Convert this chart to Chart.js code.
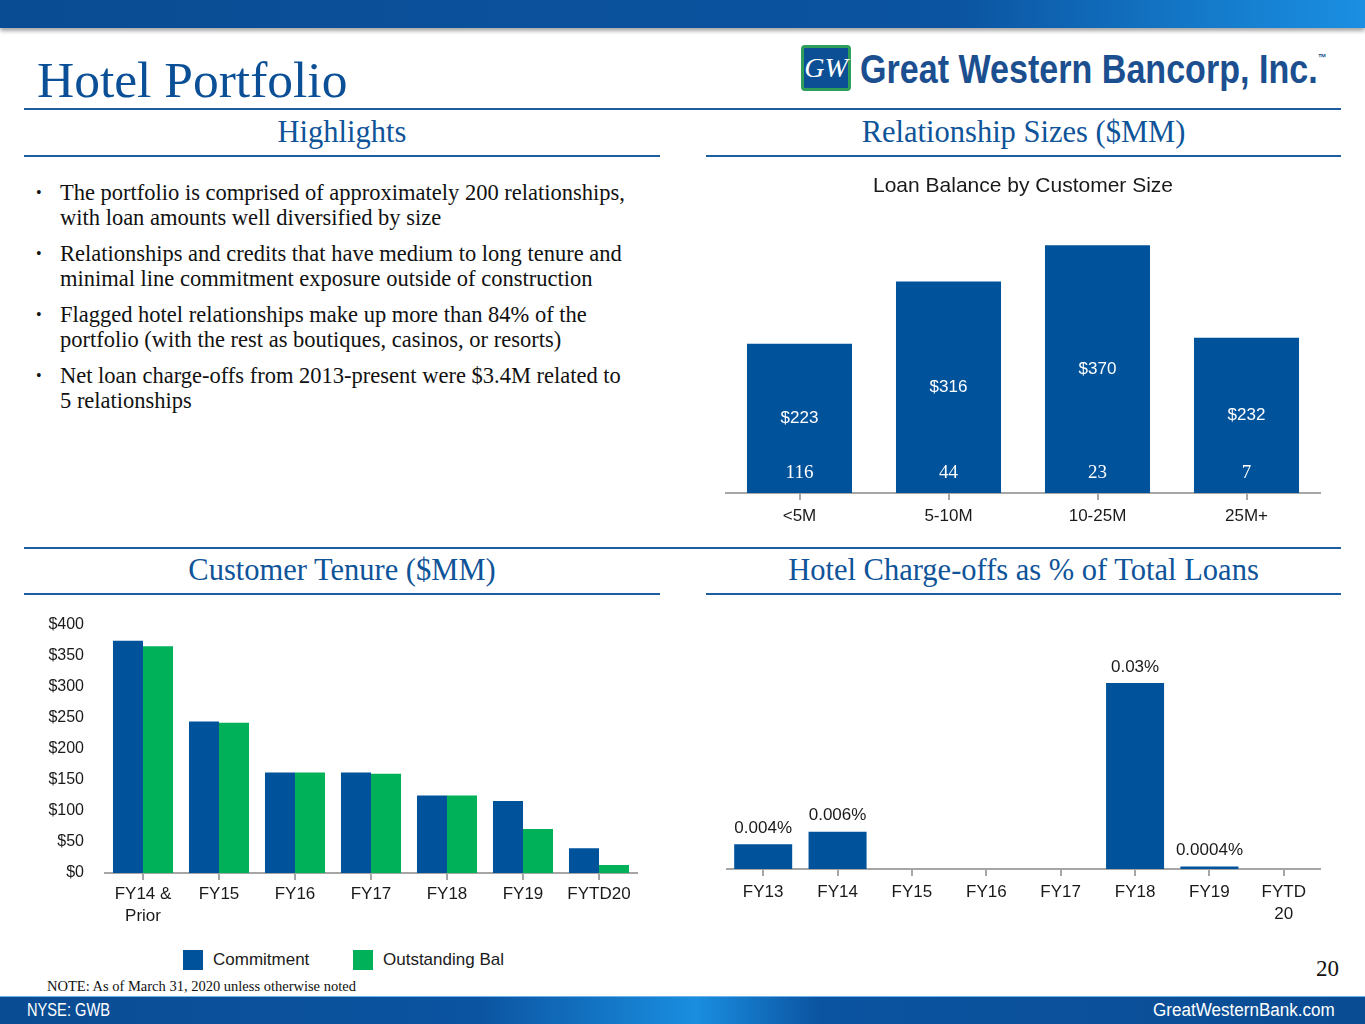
<!DOCTYPE html>
<html>
<head>
<meta charset="utf-8">
<title>Hotel Portfolio</title>
<script src="https://cdn.jsdelivr.net/npm/chart.js@4.4.1/dist/chart.umd.min.js"></script>
<style>
  html, body { margin: 0; padding: 0; background: #fff; }
  body { width: 1365px; height: 1024px; position: relative; overflow: hidden; font-family: "Liberation Serif", serif; }
  .abs { position: absolute; }
  #topbar { left: 0; top: 0; width: 1365px; height: 28px;
    background: linear-gradient(90deg, #0a4c93 0%, #0b54a1 70%, #1479c9 88%, #1b8fe2 100%);
    box-shadow: 0 3px 4px rgba(0,0,0,0.35); }
  #bottombar { left: 0; top: 996px; width: 1365px; height: 28px;
    background: linear-gradient(90deg, #0a4c93 0%, #0b54a1 35%, #1a8ee0 51%, #0b54a1 60%, #0a4c93 100%);
    border-top: 1px solid #6fb2ea; }
  .rule { height: 2px; background: #1e5d9e; }
  .head { color: #0f5499; font-size: 30.5px; text-align: center; line-height: 30px; white-space: nowrap; }
  h1 { margin: 0; position: absolute; left: 37px; top: 52px; font-weight: normal; font-size: 51.5px; color: #0b4f96; line-height: 56px; }
  ul { position: absolute; left: 36px; top: 180px; width: 640px; margin: 0; padding: 0; list-style: none; font-size: 22.5px; line-height: 25px; color: #111; white-space: nowrap; }
  li { position: relative; padding-left: 24px; margin-bottom: 11px; }
  li::before { content: "\2022"; position: absolute; left: 0; top: 0; font-size: 16px; }
  .chartbox { position: absolute; }
  #logo-icon { left: 801px; top: 45px; width: 44px; height: 40px; background: #0c4f94; border: 3px solid #2f9e5b; border-radius: 4px;
    color: #fff; font: italic 28px "Liberation Serif", serif; text-align: center; line-height: 40px; }
  .fit { white-space: nowrap; transform-origin: 0 0; }
  #logo-text { left: 860px; top: 47px; font: bold 40px "Liberation Sans", Arial, sans-serif; color: #1b4f8f; }
  .legend { top: 950px; font: 17px "Liberation Sans", Arial, sans-serif; color: #1a1a1a; line-height: 20px; }
  .legend span.sw { display: inline-block; width: 20px; height: 20px; vertical-align: top; margin-right: 10px; }
  .foot { top: 1000px; font: 18px "Liberation Sans", Arial, sans-serif; color: #fff; }
</style>
</head>
<body>
<div id="topbar" class="abs"></div>

<h1>Hotel Portfolio</h1>
<div id="logo-icon" class="abs">GW</div>
<div id="logo-text" class="abs fit" data-w="466">Great Western Bancorp, Inc.<sup style="font-size:10px;vertical-align:22px;">™</sup></div>

<div class="abs rule" style="left:24px; top:108px; width:1317px;"></div>
<div class="abs head" style="left:24px; top:117px; width:636px;">Highlights</div>
<div class="abs head" style="left:706px; top:117px; width:635px;">Relationship Sizes ($MM)</div>
<div class="abs rule" style="left:24px; top:155px; width:636px;"></div>
<div class="abs rule" style="left:706px; top:155px; width:635px;"></div>

<ul>
  <li>The portfolio is comprised of approximately 200 relationships,<br>with loan amounts well diversified by size</li>
  <li>Relationships and credits that have medium to long tenure and<br>minimal line commitment exposure outside of construction</li>
  <li>Flagged hotel relationships make up more than 84% of the<br>portfolio (with the rest as boutiques, casinos, or resorts)</li>
  <li>Net loan charge-offs from 2013-present were $3.4M related to<br>5 relationships</li>
</ul>

<div class="abs rule" style="left:24px; top:547px; width:1317px;"></div>
<div class="abs head" style="left:24px; top:555px; width:636px;">Customer Tenure ($MM)</div>
<div class="abs head" style="left:706px; top:555px; width:635px;">Hotel Charge-offs as % of Total Loans</div>
<div class="abs rule" style="left:24px; top:593px; width:636px;"></div>
<div class="abs rule" style="left:706px; top:593px; width:635px;"></div>

<div class="chartbox" style="left:725px; top:172px; width:596px; height:378px;"><canvas id="sizeChart"></canvas></div>
<div class="chartbox" style="left:40px; top:602px; width:600px; height:331px;"><canvas id="tenureChart"></canvas></div>
<div class="chartbox" style="left:726px; top:611px; width:595px; height:318px;"><canvas id="chargeChart"></canvas></div>

<div class="abs legend" style="left:183px;"><span class="sw" style="background:#00529b"></span>Commitment</div>
<div class="abs legend" style="left:353px;"><span class="sw" style="background:#00b15a"></span>Outstanding Bal</div>

<div class="abs" style="left:1316px; top:956px; font-size:23px; color:#111;">20</div>
<div class="abs" style="left:47px; top:978px; font-size:14.5px; color:#111;">NOTE: As of March 31, 2020 unless otherwise noted</div>

<div id="bottombar" class="abs"></div>
<div class="abs foot fit" style="left:27px;" data-w="83">NYSE: GWB</div>
<div class="abs foot fit" style="left:1153px;" data-w="182">GreatWesternBank.com</div>

<script>
// Relationship sizes
const sizeCategories = ['<5M', '5-10M', '10-25M', '25M+']
const loanBalance = [223, 316, 370, 232]
const customerCounts = [116, 44, 23, 7]

// Customer tenure
const tenureCategories = [['FY14 &', 'Prior'], 'FY15', 'FY16', 'FY17', 'FY18', 'FY19', 'FYTD20']
const commitment = [374, 244, 162, 162, 125, 116, 40]
const outstandingBal = [365, 242, 162, 160, 125, 71, 13]
const tenureTicks = [0, 50, 100, 150, 200, 250, 300, 350, 400]

// Hotel charge-offs (% of total loans)
const chargeCategories = ['FY13', 'FY14', 'FY15', 'FY16', 'FY17', 'FY18', 'FY19', ['FYTD', '20']]
const chargeOffs = [0.004, 0.006, 0, 0, 0, 0.03, 0.0004, 0]

const BLUE = '#00529b'
const GREEN = '#00b15a'
const AXIS_GREY = '#a6a6a6'

// squeeze the condensed sans texts (logo, footer) to their width
document.querySelectorAll('.fit').forEach(el => {
  const w = el.scrollWidth
  el.style.transform = 'scaleX(' + (Number(el.dataset.w) / w) + ')'
})

Chart.defaults.font.family = '"Liberation Sans", Arial, sans-serif'
Chart.defaults.color = '#1a1a1a'
Chart.defaults.animation = false

// shared x axis look: grey base line with small tick marks under each category
function categoryAxis(height, pad) {
  return {
    grid: { display: true, drawOnChartArea: false, drawTicks: true, offset: false, tickLength: 7, color: AXIS_GREY, lineWidth: 2 },
    border: { display: true, color: AXIS_GREY, width: 2 },
    ticks: { font: { size: 17, lineHeight: 1.3 }, padding: pad, maxRotation: 0, autoSkip: false, color: '#1a1a1a' },
    afterFit: (scale) => { scale.height = height }
  }
}

// white value and count labels inside the relationship bars
const sizeLabels = {
  id: 'sizeLabels',
  afterDatasetsDraw(chart) {
    const { ctx } = chart
    const base = chart.scales.y.getPixelForValue(0)
    ctx.save()
    ctx.fillStyle = '#fff'
    ctx.textAlign = 'center'
    ctx.textBaseline = 'middle'
    chart.getDatasetMeta(0).data.forEach((bar, i) => {
      ctx.font = '17px "Liberation Sans", Arial, sans-serif'
      ctx.fillText('$' + loanBalance[i], bar.x, (bar.y + base) / 2)
      ctx.font = '19px "Liberation Serif", serif'
      ctx.fillText(String(customerCounts[i]), bar.x, base - 20)
    })
    ctx.restore()
  }
}

new Chart(document.getElementById('sizeChart'), {
  type: 'bar',
  data: {
    labels: sizeCategories,
    datasets: [{ data: loanBalance, backgroundColor: BLUE, barPercentage: 0.705, categoryPercentage: 1 }]
  },
  options: {
    responsive: true,
    maintainAspectRatio: false,
    layout: { padding: { top: 2, left: 0, right: 0, bottom: 0 } },
    plugins: {
      legend: { display: false },
      tooltip: { enabled: false },
      title: {
        display: true,
        text: 'Loan Balance by Customer Size',
        font: { size: 21, weight: 'normal', lineHeight: 1.2 },
        color: '#1a1a1a',
        padding: { top: 0, bottom: 26 }
      }
    },
    scales: {
      x: categoryAxis(57, 5),
      y: { display: false, min: 0, max: 400 }
    }
  },
  plugins: [sizeLabels]
})

new Chart(document.getElementById('tenureChart'), {
  type: 'bar',
  data: {
    labels: tenureCategories,
    datasets: [
      { label: 'Commitment', data: commitment, backgroundColor: BLUE, barPercentage: 1, categoryPercentage: 0.79 },
      { label: 'Outstanding Bal', data: outstandingBal, backgroundColor: GREEN, barPercentage: 1, categoryPercentage: 0.79 }
    ]
  },
  options: {
    responsive: true,
    maintainAspectRatio: false,
    layout: { padding: { top: 7, right: 3, left: 0, bottom: 0 } },
    plugins: { legend: { display: false }, tooltip: { enabled: false } },
    scales: {
      x: categoryAxis(60, 3),
      y: {
        min: 0,
        max: 400,
        afterBuildTicks: (scale) => { scale.ticks = tenureTicks.map(v => ({ value: v })) },
        grid: { display: false },
        border: { display: false },
        ticks: { font: { size: 16 }, padding: 13, color: '#1a1a1a', callback: (v) => '$' + v },
        afterFit: (scale) => { scale.width = 65 }
      }
    }
  }
})

// percentage labels over the charge-off bars, skipped where the value is zero
const chargeLabels = {
  id: 'chargeLabels',
  afterDatasetsDraw(chart) {
    const { ctx } = chart
    ctx.save()
    ctx.fillStyle = '#1a1a1a'
    ctx.textAlign = 'center'
    ctx.textBaseline = 'middle'
    ctx.font = '17px "Liberation Sans", Arial, sans-serif'
    chart.getDatasetMeta(0).data.forEach((bar, i) => {
      if (!chargeOffs[i]) return
      ctx.fillText(chargeOffs[i] + '%', bar.x, bar.y - 16)
    })
    ctx.restore()
  }
}

new Chart(document.getElementById('chargeChart'), {
  type: 'bar',
  data: {
    labels: chargeCategories,
    datasets: [{ data: chargeOffs, backgroundColor: BLUE, barPercentage: 0.78, categoryPercentage: 1 }]
  },
  options: {
    responsive: true,
    maintainAspectRatio: false,
    layout: { padding: { top: 10, left: 0, right: 0, bottom: 0 } },
    plugins: { legend: { display: false }, tooltip: { enabled: false } },
    scales: {
      x: categoryAxis(60, 5),
      y: { display: false, min: 0, max: 0.04 }
    }
  },
  plugins: [chargeLabels]
})
</script>
</body>
</html>
